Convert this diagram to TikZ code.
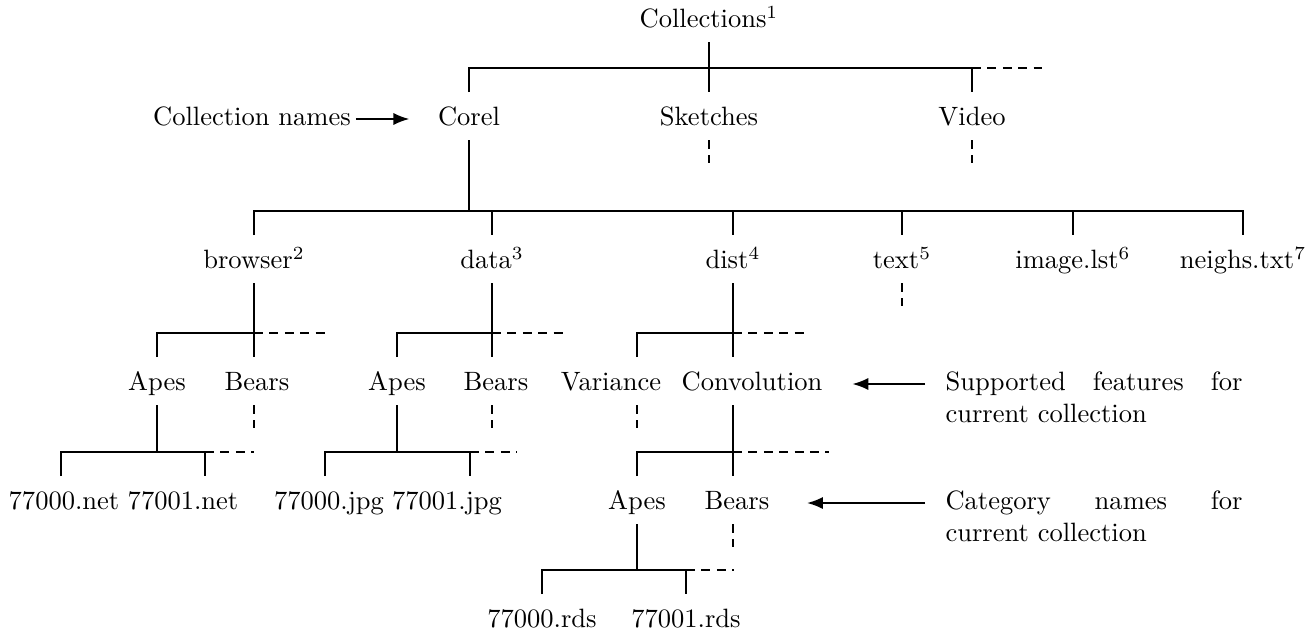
\documentclass[tikz,border=0pt]{standalone}
\usetikzlibrary{arrows.meta}
\begin{document}
\begin{tikzpicture}[x=0.377pt,y=-0.377pt,
  lbl/.style={inner sep=0pt, text height=7pt, text depth=2pt},
  tree/.style={line width=0.75pt},
  more/.style={line width=0.75pt, dash pattern=on 3.4pt off 2.4pt},
  note/.style={inner sep=0pt, text width=112pt, align=left, anchor=base west},
  pointer/.style={line width=0.75pt, -{Latex[length=6pt,width=4.6pt]}}]
\useasboundingbox (0,0) rectangle (1313,635);

% vertical levels: s = stem start below a label, b = bar, e = end of a leg, d = end of a dashed stub
\coordinate (s1) at (0,42);
\coordinate (b1) at (0,68);  \coordinate (e1) at (0,92);
\coordinate (s2) at (0,140); \coordinate (d2) at (0,163);
\coordinate (b2) at (0,211); \coordinate (e2) at (0,235);
\coordinate (s3) at (0,283); \coordinate (d3) at (0,306);
\coordinate (b3) at (0,333); \coordinate (e3) at (0,357);
\coordinate (s4) at (0,405); \coordinate (d4) at (0,428);
\coordinate (b4) at (0,452); \coordinate (e4) at (0,476);
\coordinate (s5) at (0,524); \coordinate (d5) at (0,547);
\coordinate (b5) at (0,570); \coordinate (e5) at (0,594);

% columns whose labels sit off the stems
\coordinate (cV)  at (637,0);
\coordinate (cN0) at (61,0);  \coordinate (cN1) at (205,0);
\coordinate (cJ0) at (325,0); \coordinate (cJ1) at (470,0);

% labels
\node[lbl] (coll)    at (709,21)  {Collections\textsuperscript{1}};

\node[lbl] (cname)   at (252,119) {Collection names};
\node[lbl] (corel)   at (469,119) {Corel};
\node[lbl] (sketch)  at (709,119) {Sketches};
\node[lbl] (video)   at (972,119) {Video};

\node[lbl] (browser) at (254,262) {browser\textsuperscript{2}};
\node[lbl] (data)    at (492,262) {data\textsuperscript{3}};
\node[lbl] (dist)    at (733,262) {dist\textsuperscript{4}};
\node[lbl] (txt)     at (902,262) {text\textsuperscript{5}};
\node[lbl] (imglst)  at (1073,262) {image.lst\textsuperscript{6}};
\node[lbl] (neighs)  at (1243,262) {neighs.txt\textsuperscript{7}};

\node[lbl] (apesA)   at (157,384) {Apes};
\node[lbl] (bearsA)  at (257,384) {Bears};
\node[lbl] (apesB)   at (397,384) {Apes};
\node[lbl] (bearsB)  at (496,384) {Bears};
\node[lbl] (var)     at (611,384) {Variance};
\node[lbl] (conv)    at (752,384) {Convolution};

\node[lbl] (n0)      at (64,503)  {77000.net};
\node[lbl] (n1)      at (183,503) {77001.net};
\node[lbl] (j0)      at (329,503) {77000.jpg};
\node[lbl] (j1)      at (447,503) {77001.jpg};
\node[lbl] (apesC)   at (637,503) {Apes};
\node[lbl] (bearsC)  at (737,503) {Bears};

\node[lbl] (r0)      at (542,621) {77000.rds};
\node[lbl] (r1)      at (686,621) {77001.rds};

% justified first lines of the two side notes
\node[note] (supp) at (945,390.6)
  {\hbox to 112pt{Supported\hfill features\hfill for}\\current collection};
\node[note] (catg) at (945,509.6)
  {\hbox to 112pt{Category\hfill names\hfill for}\\current collection};

% Collections
\draw[tree] (coll |- s1) -- (coll |- e1);
\draw[tree] (corel |- e1) -- (corel |- b1) -- (video |- b1) -- (video |- e1);
\draw[more] (video |- b1) -- ++(70,0);
\draw[more] (sketch |- s2) -- (sketch |- d2);
\draw[more] (video |- s2) -- (video |- d2);

% Corel
\draw[tree] (corel |- s2) -- (corel |- b2);
\draw[tree] (browser |- e2) -- (browser |- b2) -- (neighs |- b2) -- (neighs |- e2);
\foreach \n in {data,dist,txt,imglst} \draw[tree] (\n |- b2) -- (\n |- e2);
\draw[more] (txt |- s3) -- (txt |- d3);

% browser
\draw[tree] (browser |- s3) -- (browser |- e3);
\draw[tree] (apesA |- e3) -- (apesA |- b3) -- (browser |- b3);
\draw[more] (browser |- b3) -- ++(72,0);
\draw[more] (browser |- s4) -- (browser |- d4);

% data
\draw[tree] (data |- s3) -- (data |- e3);
\draw[tree] (apesB |- e3) -- (apesB |- b3) -- (data |- b3);
\draw[more] (data |- b3) -- ++(74,0);
\draw[more] (data |- s4) -- (data |- d4);

% dist
\draw[tree] (dist |- s3) -- (dist |- e3);
\draw[tree] (cV |- e3) -- (cV |- b3) -- (dist |- b3);
\draw[more] (dist |- b3) -- ++(73,0);
\draw[more] (cV |- s4) -- (cV |- d4);

% Convolution
\draw[tree] (dist |- s4) -- (dist |- e4);
\draw[tree] (apesC |- e4) -- (apesC |- b4) -- (dist |- b4);
\draw[more] (dist |- b4) -- ++(96,0);
\draw[more] (dist |- s5) -- (dist |- d5);

% Apes under browser
\draw[tree] (apesA |- s4) -- (apesA |- b4);
\draw[tree] (cN0 |- e4) -- (cN0 |- b4) -- (cN1 |- b4) -- (cN1 |- e4);
\draw[more] (cN1 |- b4) -- ++(49,0);

% Apes under data
\draw[tree] (apesB |- s4) -- (apesB |- b4);
\draw[tree] (cJ0 |- e4) -- (cJ0 |- b4) -- (cJ1 |- b4) -- (cJ1 |- e4);
\draw[more] (cJ1 |- b4) -- ++(47,0);

% Apes under Convolution
\draw[tree] (apesC |- s5) -- (apesC |- b5);
\draw[tree] (r0 |- e5) -- (r0 |- b5) -- (r1 |- b5) -- (r1 |- e5);
\draw[more] (r1 |- b5) -- ++(48,0);

% pointers from the notes
\draw[pointer] ([xshift=1.7pt]cname.east) -- ([xshift=-10.6pt]corel.west);
\draw[pointer] (supp.base west |- conv.east) ++(-20,0) -- ([xshift=11.1pt]conv.east);
\draw[pointer] (catg.base west |- bearsC.east) ++(-20,0) -- ([xshift=14pt]bearsC.east);
\end{tikzpicture}
\end{document}
